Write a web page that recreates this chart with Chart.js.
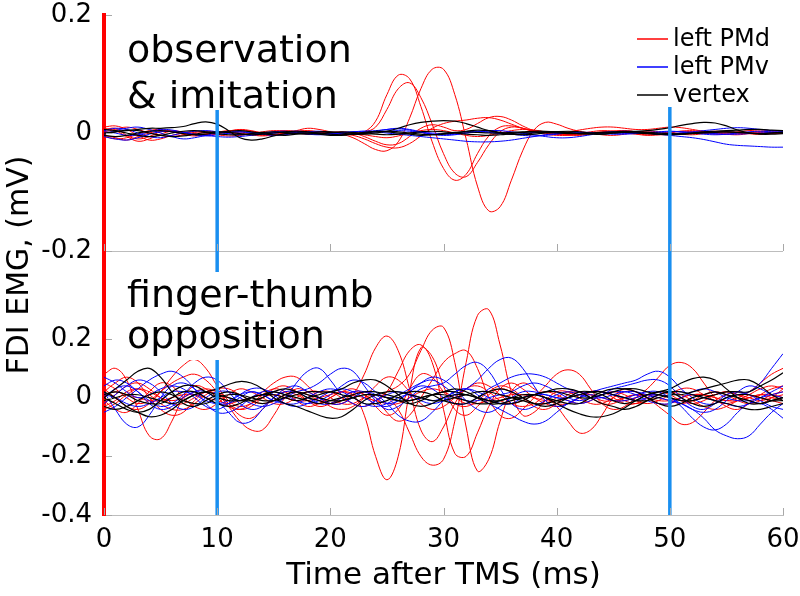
<!DOCTYPE html>
<html><head><meta charset="utf-8">
<script src="https://cdn.jsdelivr.net/npm/chart.js@4.4.1/dist/chart.umd.min.js"></script>
<style>html,body{margin:0;padding:0;background:#fff}#wrap{width:800px;height:596px;position:relative}</style>
</head><body><div id="wrap"><canvas id="c"></canvas></div>
<script>
// ---- time base (ms after TMS) ----
const times = [0,1,2,3,4,5,6,7,8,9,10,11,12,13,14,15,16,17,18,19,20,21,22,23,24,25,26,27,28,29,30,
  31,32,33,34,35,36,37,38,39,40,41,42,43,44,45,46,47,48,49,50,51,52,53,54,55,56,57,58,59,60];

// ---- panel value ranges and ticks (mV) ----
const topRange = [-0.2, 0.2];
const botRange = [-0.4, 0.5];
const topTicks = [-0.2, 0, 0.2];
const botTicks = [-0.4, -0.2, 0, 0.2];
const xTicks = [0, 10, 20, 30, 40, 50, 60];
const markerTimes = [10, 50];
const legendLabels = ['left PMd', 'left PMv', 'vertex'];

// ---- observation & imitation : left PMd (red) ----
const obsPMd1 = [0.005,0.008,-0.004,-0.010,-0.006,0.002,0.004,0.001,-0.003,-0.004,
 -0.002,0.003,0.006,0.004,0.000,-0.003,-0.002,0.001,0.003,0.002,
 0.000,-0.002,-0.001,0.002,0.020,0.065,0.098,0.092,0.045,-0.015,
 -0.060,-0.080,-0.070,-0.035,-0.005,0.010,0.012,0.008,0.004,0.002,
 0.000,-0.003,-0.004,-0.002,0.001,0.003,0.004,0.002,-0.001,-0.003,
 -0.002,0.000,0.002,0.003,0.001,-0.002,-0.003,-0.001,0.001,0.002,0.001];
const obsPMd2 = [-0.004,-0.008,-0.012,-0.006,0.000,0.003,0.002,-0.002,-0.005,-0.003,
 0.001,0.004,0.002,-0.001,-0.004,-0.003,0.000,0.003,0.004,0.002,
 0.000,-0.001,0.000,0.002,0.010,0.040,0.075,0.085,0.060,0.015,
 -0.035,-0.068,-0.074,-0.050,-0.020,0.002,0.010,0.008,0.003,0.000,
 -0.002,-0.003,-0.001,0.002,0.004,0.003,0.000,-0.002,-0.004,-0.003,
 0.000,0.003,0.004,0.002,-0.001,-0.002,-0.001,0.001,0.002,0.001,0.000];
const obsPMd3 = [0.008,0.004,-0.006,-0.014,-0.010,-0.002,0.003,0.002,-0.001,-0.002,
 0.000,0.003,0.005,0.003,0.000,-0.002,0.000,0.004,0.008,0.006,
 0.002,-0.002,-0.008,-0.018,-0.028,-0.030,-0.015,0.025,0.075,0.108,
 0.108,0.065,-0.010,-0.090,-0.132,-0.125,-0.080,-0.030,0.005,0.018,
 0.015,0.008,0.003,0.000,-0.003,-0.004,-0.002,0.001,0.003,0.002,
 0.000,-0.002,-0.003,-0.001,0.001,0.002,0.001,-0.001,-0.002,-0.001,0.000];
const obsPMd4 = [-0.006,-0.010,-0.008,-0.002,0.004,0.006,0.003,-0.001,-0.003,-0.002,
 0.001,0.002,0.000,-0.003,-0.005,-0.003,0.000,0.002,0.003,0.001,
 -0.001,-0.002,-0.004,-0.010,-0.018,-0.024,-0.025,-0.018,-0.005,0.008,
 0.016,0.020,0.022,0.025,0.026,0.022,0.015,0.008,0.002,-0.002,
 -0.004,-0.004,-0.003,-0.001,0.001,0.003,0.004,0.002,0.000,-0.002,
 -0.003,-0.002,0.000,0.002,0.003,0.002,0.000,-0.001,-0.002,-0.001,0.000];
const obsPMd5 = [0.002,0.006,0.010,0.006,0.000,-0.004,-0.006,-0.003,0.001,0.003,
 0.002,0.000,-0.002,-0.003,-0.001,0.002,0.004,0.003,0.000,-0.002,
 -0.001,0.001,0.000,-0.006,-0.014,-0.020,-0.018,-0.006,0.008,0.014,
 0.010,0.004,0.006,0.016,0.026,0.028,0.022,0.012,0.004,0.000,
 -0.002,-0.003,-0.002,0.000,0.002,0.003,0.001,-0.001,-0.003,-0.002,
 0.001,0.003,0.002,0.000,-0.002,-0.002,0.000,0.001,0.002,0.001,0.000];
const obsPMd6 = [0.010,0.012,0.006,-0.004,-0.012,-0.010,-0.004,0.000,0.002,0.000,
 -0.003,-0.005,-0.004,-0.001,0.002,0.004,0.003,0.000,-0.002,-0.001,
 0.001,0.002,0.000,-0.003,-0.006,-0.008,-0.005,0.000,0.004,0.006,
 0.004,0.000,-0.004,-0.006,-0.004,0.000,0.004,0.006,0.005,0.002,
 0.000,0.002,0.005,0.008,0.010,0.010,0.008,0.006,0.006,0.008,
 0.010,0.009,0.006,0.003,0.001,0.000,0.002,0.004,0.005,0.004,0.003];

// ---- observation & imitation : left PMv (blue) ----
const obsPMv1 = [0.004,0.008,0.006,0.000,-0.006,-0.008,-0.004,0.000,0.003,0.004,
 0.002,-0.001,-0.003,-0.002,0.000,0.002,0.003,0.001,-0.001,-0.002,
 -0.001,0.001,0.002,0.003,0.004,0.006,0.008,0.006,0.002,-0.002,
 -0.004,-0.003,0.000,0.002,0.001,-0.001,-0.002,-0.001,0.001,0.002,
 0.001,0.000,-0.001,0.000,0.001,0.002,0.002,0.001,0.000,-0.002,
 -0.004,-0.006,-0.008,-0.011,-0.015,-0.019,-0.021,-0.022,-0.023,-0.024,-0.024];
const obsPMv2 = [-0.006,-0.010,-0.012,-0.008,-0.002,0.002,0.003,0.001,-0.002,-0.004,
 -0.006,-0.007,-0.006,-0.004,-0.002,0.000,0.001,0.000,-0.002,-0.003,
 -0.002,0.000,0.002,0.003,0.002,0.000,-0.002,-0.004,-0.006,-0.008,
 -0.010,-0.012,-0.014,-0.015,-0.015,-0.014,-0.012,-0.009,-0.006,-0.003,
 -0.001,0.000,0.001,0.000,-0.001,-0.002,-0.002,-0.001,0.000,0.001,
 0.002,0.002,0.001,0.000,-0.001,-0.002,-0.002,-0.001,0.000,0.001,0.002];
const obsPMv3 = [0.002,0.000,-0.004,-0.003,0.002,0.006,0.005,0.001,-0.003,-0.005,
 -0.003,0.000,0.002,0.001,-0.002,-0.004,-0.003,0.000,0.002,0.003,
 0.001,-0.001,-0.002,0.000,0.003,0.006,0.007,0.005,0.001,-0.002,
 -0.003,-0.002,0.000,0.002,0.004,0.004,0.002,0.000,-0.003,-0.006,
 -0.008,-0.008,-0.006,-0.003,0.000,0.002,0.003,0.002,0.000,-0.002,
 -0.002,0.000,0.002,0.004,0.006,0.008,0.009,0.008,0.006,0.004,0.003];
const obsPMv4 = [-0.002,0.004,0.008,0.010,0.006,0.000,-0.006,-0.010,-0.008,-0.004,
 0.000,0.002,0.002,0.000,-0.001,0.000,0.002,0.003,0.002,0.000,
 -0.002,-0.003,-0.002,0.000,0.002,0.003,0.004,0.003,0.001,0.000,
 -0.001,0.000,0.002,0.003,0.002,0.000,-0.002,-0.004,-0.005,-0.004,
 -0.002,0.000,0.001,0.001,0.000,-0.001,-0.001,0.000,0.001,0.002,
 0.003,0.002,0.000,-0.002,-0.003,-0.002,0.000,0.002,0.003,0.002,0.001];

// ---- observation & imitation : vertex (black) ----
const obsVx1 = [0.000,0.002,0.004,0.006,0.008,0.008,0.009,0.011,0.016,0.019,
 0.015,0.004,-0.008,-0.012,-0.010,-0.005,-0.001,0.000,0.000,-0.002,
 -0.004,-0.004,-0.002,0.000,0.002,0.003,0.002,0.000,-0.002,-0.003,
 -0.002,0.000,0.003,0.005,0.004,0.001,-0.002,-0.003,-0.002,0.000,
 0.002,0.003,0.002,0.000,-0.002,0.000,0.001,0.002,0.001,0.000,
 -0.001,-0.002,-0.001,0.000,0.001,0.002,0.001,0.000,-0.001,0.000,0.001];
const obsVx2 = [-0.004,-0.006,-0.004,0.000,0.003,0.004,0.002,-0.001,-0.003,-0.002,
 0.001,0.003,0.004,0.002,-0.001,-0.003,-0.004,-0.002,0.000,0.002,
 0.002,0.000,-0.002,-0.002,0.000,0.003,0.008,0.014,0.018,0.020,
 0.021,0.020,0.016,0.010,0.004,0.000,-0.002,-0.002,0.000,0.002,
 0.002,0.001,-0.001,-0.002,-0.002,0.000,0.002,0.003,0.004,0.006,
 0.009,0.013,0.016,0.018,0.017,0.012,0.005,0.000,-0.002,-0.002,-0.001];
const obsVx3 = [0.006,0.004,0.000,-0.004,-0.006,-0.004,0.000,0.003,0.004,0.002,
 -0.001,-0.003,-0.003,-0.001,0.001,0.002,0.001,-0.001,-0.002,-0.001,
 0.001,0.002,0.001,-0.001,-0.002,-0.003,-0.002,0.000,0.002,0.003,
 0.002,0.000,-0.002,-0.003,-0.004,-0.003,-0.001,0.001,0.002,0.001,
 0.000,-0.001,-0.001,0.000,0.001,0.002,0.003,0.002,0.000,-0.002,
 -0.003,-0.002,0.000,0.002,0.003,0.004,0.005,0.006,0.006,0.005,0.004];
const obsVx4 = [-0.002,0.002,0.005,0.004,0.000,-0.004,-0.006,-0.005,-0.002,0.001,
 0.002,0.001,-0.001,-0.003,-0.002,0.000,0.002,0.003,0.002,0.000,
 -0.002,-0.003,-0.001,0.001,0.003,0.002,0.000,-0.002,-0.004,-0.003,
 -0.001,0.001,0.002,0.001,0.000,0.000,0.001,0.002,0.003,0.003,
 0.002,0.000,-0.001,-0.001,0.000,0.001,0.001,0.000,-0.001,-0.002,
 -0.002,-0.001,0.000,0.001,0.002,0.002,0.001,0.000,-0.001,0.000,0.001];

// ---- finger-thumb opposition : left PMd (red) ----
const oppPMd1 = [0.08,0.10,0.06,-0.04,-0.13,-0.14,-0.08,0.00,0.04,0.03,
 0.00,-0.03,-0.04,-0.02,0.01,0.03,0.02,-0.01,-0.03,-0.02,
 0.00,0.02,0.01,-0.06,-0.20,-0.28,-0.20,0.02,0.17,0.14,
 0.04,-0.04,-0.06,-0.03,0.01,0.03,0.02,0.00,-0.02,-0.02,
 0.00,0.02,0.02,0.00,-0.02,-0.02,0.00,0.01,0.01,0.00,
 -0.01,-0.02,-0.01,0.01,0.02,0.01,-0.01,-0.02,-0.01,0.01,0.02];
const oppPMd2 = [-0.02,0.01,0.04,0.05,0.03,0.00,-0.02,-0.02,0.00,0.02,
 0.01,-0.03,-0.08,-0.11,-0.11,-0.06,0.00,0.03,0.02,0.00,
 -0.02,-0.02,0.01,0.08,0.17,0.21,0.16,0.03,-0.11,-0.15,
 -0.10,-0.02,0.03,0.04,0.02,-0.01,-0.02,-0.01,0.01,0.02,
 0.01,-0.01,-0.02,-0.01,0.01,0.02,0.01,-0.01,-0.02,-0.01,
 0.01,0.03,0.03,0.01,-0.01,-0.02,-0.01,0.00,0.01,0.01,0.00];
const oppPMd3 = [0.03,0.00,-0.03,-0.04,-0.02,0.02,0.07,0.11,0.13,0.10,
 0.04,-0.01,-0.03,-0.02,0.00,0.01,0.00,-0.01,0.00,0.02,
 0.02,0.00,-0.02,-0.03,-0.01,0.02,0.04,0.08,0.16,0.23,
 0.24,0.12,-0.10,-0.25,-0.21,-0.08,0.02,0.05,0.03,0.00,
 -0.02,-0.02,0.00,0.02,0.02,0.00,-0.02,-0.02,0.00,0.02,
 0.01,-0.01,-0.02,-0.01,0.01,0.02,0.01,-0.01,-0.02,0.00,0.03];
const oppPMd4 = [-0.01,-0.04,-0.05,-0.02,0.02,0.05,0.04,0.00,-0.03,-0.04,
 -0.02,0.01,0.03,0.02,0.00,-0.02,-0.02,0.00,0.02,0.02,
 0.00,-0.02,-0.02,0.00,0.01,0.00,-0.04,-0.12,-0.20,-0.23,
 -0.21,-0.08,0.12,0.28,0.30,0.18,0.02,-0.06,-0.05,-0.01,
 0.02,0.02,0.00,-0.02,-0.02,0.00,0.02,0.02,0.00,-0.02,
 -0.02,0.00,0.01,0.01,0.00,-0.01,-0.01,0.00,0.01,0.00,-0.01];
const oppPMd5 = [0.05,0.03,0.00,-0.02,-0.01,0.02,0.05,0.07,0.08,0.06,
 0.02,-0.02,-0.04,-0.03,0.00,0.03,0.04,0.02,-0.01,-0.03,
 -0.02,0.00,0.02,0.01,-0.01,0.02,0.09,0.16,0.18,0.12,
 -0.04,-0.19,-0.20,-0.12,-0.03,0.03,0.05,0.03,0.00,-0.02,
 -0.03,-0.02,0.00,0.02,0.02,0.01,-0.01,-0.02,-0.01,0.01,
 0.02,0.01,-0.01,-0.03,-0.04,-0.03,-0.01,0.01,0.03,0.04,0.03];
const oppPMd6 = [-0.03,-0.01,0.02,0.03,0.01,-0.02,-0.04,-0.04,-0.02,0.01,
 0.03,0.03,0.01,-0.01,-0.02,-0.01,0.01,0.02,0.01,-0.01,
 -0.02,-0.01,0.01,0.02,0.00,-0.05,-0.08,-0.06,0.00,0.06,
 0.12,0.15,0.16,0.10,0.00,-0.06,-0.07,-0.04,0.00,0.04,
 0.08,0.095,0.08,0.03,-0.02,-0.04,-0.03,0.00,0.03,0.07,
 0.11,0.12,0.10,0.05,0.00,-0.03,-0.04,-0.02,0.01,0.03,0.04];
const oppPMd7 = [-0.04,-0.02,0.01,0.03,0.02,0.00,-0.01,0.00,0.02,0.03,
 0.02,0.00,-0.01,0.00,0.02,0.05,0.07,0.07,0.04,0.00,
 -0.03,-0.04,-0.03,0.00,0.04,0.07,0.06,0.02,-0.02,-0.04,
 -0.03,0.00,0.03,0.05,0.04,0.01,-0.02,-0.03,-0.02,0.00,
 -0.03,-0.08,-0.12,-0.11,-0.06,0.00,0.03,0.02,0.00,-0.03,
 -0.06,-0.09,-0.085,-0.05,-0.01,0.01,0.02,0.01,0.00,-0.01,-0.02];
const oppPMd8 = [0.02,0.05,0.07,0.05,0.00,-0.04,-0.06,-0.05,-0.01,0.02,
 0.02,-0.02,-0.06,-0.07,-0.04,0.00,0.02,0.01,-0.01,-0.02,
 0.00,0.02,0.03,0.01,-0.03,-0.06,-0.04,0.03,0.08,0.07,
 0.02,-0.02,-0.03,-0.01,0.02,0.04,0.03,0.00,-0.03,-0.04,
 -0.02,0.01,0.02,0.01,-0.01,-0.01,0.00,0.01,0.00,-0.01,
 -0.01,0.00,0.01,0.01,0.00,-0.01,0.00,0.02,0.05,0.08,0.10];
const oppPMd9 = [0.01,0.02,0.01,0.00,-0.01,-0.01,0.00,0.01,0.01,0.00,
 -0.01,-0.02,-0.01,0.00,0.01,0.01,0.00,-0.01,-0.01,0.00,
 0.01,0.02,0.01,0.00,-0.01,-0.02,-0.02,0.00,0.02,0.03,
 0.02,0.00,-0.02,-0.02,-0.01,0.00,0.01,0.01,0.00,-0.01,
 -0.01,0.00,0.01,0.01,0.00,-0.01,-0.01,0.00,0.01,0.01,
 0.00,-0.01,-0.01,0.00,0.01,0.02,0.01,0.00,-0.01,0.00,0.01];

// ---- finger-thumb opposition : left PMv (blue) ----
const oppPMv1 = [0.02,-0.04,-0.09,-0.10,-0.06,0.00,0.04,0.05,0.03,0.00,
 -0.02,-0.02,0.00,0.02,0.01,-0.01,0.00,0.05,0.09,0.10,
 0.06,0.01,-0.02,-0.03,-0.01,0.01,0.02,0.01,-0.01,-0.02,
 -0.01,0.01,0.03,0.06,0.10,0.13,0.135,0.10,0.04,-0.01,
 -0.03,-0.02,0.00,0.02,0.02,0.01,0.00,0.01,0.02,0.02,
 0.00,-0.02,-0.04,-0.05,-0.04,-0.01,0.02,0.04,0.03,0.01,0.00];
const oppPMv2 = [-0.02,0.01,0.04,0.06,0.05,0.02,-0.02,-0.04,-0.03,0.00,
 0.02,0.02,0.00,-0.02,-0.03,-0.02,0.00,0.02,0.03,0.05,
 0.08,0.10,0.09,0.04,-0.01,-0.04,-0.03,0.00,0.03,0.04,
 0.05,0.08,0.11,0.12,0.09,0.03,-0.02,-0.04,-0.03,-0.01,
 0.01,0.02,0.01,0.00,0.00,0.01,0.02,0.02,0.01,0.00,
 -0.01,-0.02,-0.04,-0.07,-0.11,-0.13,-0.14,-0.13,-0.09,-0.05,-0.02];
const oppPMv3 = [0.04,0.06,0.05,0.02,-0.01,-0.03,-0.02,0.01,0.05,0.07,
 0.06,0.02,-0.02,-0.04,-0.03,0.00,0.02,0.02,0.00,-0.02,
 -0.02,0.00,0.02,0.02,0.00,-0.02,-0.01,0.02,0.04,0.03,
 0.00,-0.02,-0.02,0.00,0.03,0.05,0.07,0.08,0.08,0.07,
 0.05,0.03,0.02,0.02,0.03,0.04,0.05,0.06,0.08,0.09,
 0.07,0.03,0.00,-0.02,-0.02,0.00,0.01,0.02,0.05,0.10,0.15];
const oppPMv4 = [0.00,0.03,0.04,0.02,-0.02,-0.04,-0.03,0.00,0.02,0.02,
 -0.01,-0.05,-0.085,-0.08,-0.04,0.00,0.03,0.04,0.02,0.00,
 -0.02,-0.02,0.00,0.02,0.01,-0.02,-0.06,-0.08,-0.08,-0.05,
 -0.01,0.02,0.03,0.01,-0.02,-0.04,-0.06,-0.08,-0.09,-0.08,
 -0.05,-0.02,0.00,0.01,0.00,-0.01,-0.01,0.00,0.01,0.01,
 0.00,-0.03,-0.07,-0.10,-0.11,-0.09,-0.05,-0.02,-0.02,-0.04,-0.07];
const oppPMv5 = [0.07,0.05,0.02,0.00,0.01,0.03,0.04,0.03,0.00,-0.03,
 -0.04,-0.02,0.01,0.03,0.03,0.01,-0.02,-0.03,-0.02,0.00,
 0.02,0.03,0.02,0.00,-0.02,-0.03,-0.01,0.02,0.05,0.07,
 0.06,0.03,-0.01,-0.04,-0.05,-0.03,0.00,0.02,0.02,0.01,
 0.00,0.00,0.01,0.02,0.02,0.01,0.00,-0.01,0.00,0.01,
 0.02,0.02,0.01,0.00,-0.01,-0.02,-0.03,-0.02,0.00,0.02,0.04];
const oppPMv6 = [-0.05,-0.03,0.00,0.03,0.06,0.08,0.09,0.07,0.03,-0.02,
 -0.05,-0.05,-0.03,0.00,0.02,0.02,0.01,-0.01,-0.02,-0.01,
 0.01,0.04,0.06,0.05,0.02,0.00,0.01,0.03,0.05,0.06,
 0.04,0.01,-0.01,-0.01,0.00,0.01,0.02,0.04,0.05,0.04,
 0.02,0.00,-0.01,0.00,0.01,0.03,0.04,0.05,0.06,0.06,
 0.04,0.00,-0.03,-0.04,-0.02,0.01,0.02,0.01,-0.01,-0.03,-0.04];
const oppPMv7 = [0.01,0.00,-0.02,-0.03,-0.02,0.00,0.02,0.02,0.01,-0.01,
 -0.02,-0.01,0.01,0.02,0.01,-0.01,-0.02,-0.02,0.00,0.02,
 0.03,0.02,0.00,-0.02,-0.03,-0.02,0.00,0.01,0.00,-0.01,
 0.00,0.02,0.03,0.02,0.00,-0.02,-0.02,0.00,0.01,0.01,
 0.00,-0.01,-0.02,-0.01,0.01,0.02,0.02,0.01,-0.01,-0.02,
 -0.02,0.00,0.02,0.03,0.02,0.00,-0.01,-0.01,0.00,0.01,0.02];

// ---- finger-thumb opposition : vertex (black) ----
const oppVx1 = [0.00,0.03,0.06,0.09,0.10,0.07,0.02,-0.02,-0.03,-0.01,
 0.01,0.02,0.01,-0.01,-0.02,-0.01,0.01,0.02,0.01,0.00,
 -0.01,-0.01,0.00,0.01,0.01,0.00,-0.01,-0.01,0.00,0.01,
 0.02,0.02,0.01,0.00,-0.01,-0.01,0.00,0.01,0.01,0.00,
 -0.02,-0.04,-0.055,-0.065,-0.065,-0.055,-0.035,-0.01,0.01,0.02,
 0.03,0.05,0.065,0.07,0.06,0.03,0.00,-0.02,-0.02,-0.01,0.00];
const oppVx2 = [0.02,0.00,-0.03,-0.05,-0.065,-0.06,-0.04,-0.01,0.01,0.02,
 0.03,0.045,0.055,0.05,0.03,0.00,-0.02,-0.03,-0.045,-0.06,
 -0.07,-0.065,-0.04,-0.01,0.01,0.02,0.02,0.01,0.00,-0.01,
 -0.01,0.00,0.01,0.02,0.02,0.01,0.00,-0.01,-0.02,-0.02,
 -0.01,0.00,0.01,0.02,0.02,0.01,0.00,-0.01,-0.01,0.00,
 0.01,0.01,0.02,0.03,0.04,0.05,0.06,0.06,0.04,0.01,-0.01];
const oppVx3 = [-0.03,-0.04,-0.03,-0.01,0.01,0.02,0.01,-0.01,-0.02,-0.02,
 0.00,0.01,0.01,0.00,-0.01,-0.01,0.00,0.01,0.02,0.02,
 0.02,0.03,0.05,0.06,0.06,0.04,0.01,-0.02,-0.03,-0.02,
 0.00,0.01,0.01,0.00,-0.01,-0.02,-0.02,-0.01,0.01,0.02,
 0.02,0.01,0.00,0.00,0.01,0.02,0.03,0.03,0.02,0.01,
 0.00,-0.01,-0.01,0.00,0.01,0.02,0.02,0.02,0.04,0.06,0.085];
const oppVx4 = [0.01,0.02,0.01,-0.01,-0.02,-0.02,0.00,0.02,0.02,0.00,
 -0.02,-0.03,-0.02,0.00,0.01,0.01,0.00,-0.01,0.00,0.01,
 0.02,0.01,0.00,-0.02,-0.02,-0.01,0.01,0.02,0.02,0.01,
 -0.01,-0.02,-0.02,0.00,0.02,0.03,0.02,0.00,-0.02,-0.03,
 -0.02,0.00,0.02,0.02,0.01,-0.01,-0.02,-0.01,0.01,0.02,
 0.02,0.00,-0.02,-0.03,-0.02,0.00,0.01,0.01,0.00,-0.01,-0.01];
const oppVx5 = [-0.01,0.00,0.01,0.01,0.00,-0.01,-0.02,-0.01,0.01,0.02,
 0.01,0.00,-0.01,-0.01,0.00,0.02,0.03,0.02,0.00,-0.01,
 -0.02,-0.01,0.00,0.01,0.01,0.00,-0.01,-0.02,-0.01,0.01,
 0.02,0.03,0.02,0.00,-0.02,-0.02,-0.01,0.00,0.01,0.00,
 -0.01,-0.02,-0.02,0.00,0.02,0.03,0.03,0.02,0.00,-0.02,
 -0.03,-0.02,0.00,0.01,0.02,0.01,0.00,-0.01,-0.02,-0.01,0.00];
const oppVx6 = [0.00,-0.02,-0.04,-0.05,-0.04,-0.01,0.02,0.04,0.04,0.02,
 0.00,-0.01,-0.01,0.00,0.01,0.02,0.01,0.00,-0.01,-0.02,
 -0.01,0.00,0.01,0.02,0.02,0.01,0.00,-0.01,0.00,0.01,
 0.01,0.00,-0.01,-0.02,-0.02,-0.01,0.00,0.00,0.01,0.02,
 0.03,0.03,0.02,0.00,-0.02,-0.03,-0.04,-0.03,-0.01,0.01,
 0.02,0.02,0.01,0.00,-0.01,-0.02,-0.03,-0.04,-0.04,-0.03,-0.02];

const obsPMd = [obsPMd1, obsPMd2, obsPMd3, obsPMd4, obsPMd5, obsPMd6];
const obsPMv = [obsPMv1, obsPMv2, obsPMv3, obsPMv4];
const obsVx = [obsVx1, obsVx2, obsVx3, obsVx4];
const oppPMd = [oppPMd1, oppPMd2, oppPMd3, oppPMd4, oppPMd5, oppPMd6, oppPMd7, oppPMd8, oppPMd9];
const oppPMv = [oppPMv1, oppPMv2, oppPMv3, oppPMv4, oppPMv5, oppPMv6, oppPMv7];
const oppVx = [oppVx1, oppVx2, oppVx3, oppVx4, oppVx5, oppVx6];

// ---- styling ----
const FONT = "'DejaVu Sans', sans-serif";
const RED = '#ff0000', BLUE = '#0000ff', BLACK = '#000000', MARK = '#1a8ff0';
const legendColors = [RED, BLUE, BLACK];

function traces(list, color, axis, order, width) {
  return list.map(vals => ({
    data: vals.map((v, i) => ({x: times[i], y: v})),
    borderColor: color, borderWidth: width, pointRadius: 0, tension: 0.4,
    fill: false, yAxisID: axis, order: order
  }));
}
function markers(axis, range) {
  return markerTimes.map(t => ({
    data: [{x: t, y: range[0]}, {x: t, y: range[1]}],
    borderColor: MARK, borderWidth: 3.5, pointRadius: 0, tension: 0,
    fill: false, yAxisID: axis, order: 1
  }));
}

const datasets = [].concat(
  traces(obsPMd, RED, 'yTop', 4, 1), traces(oppPMd, RED, 'yBot', 4, 1),
  traces(obsPMv, BLUE, 'yTop', 3, 1), traces(oppPMv, BLUE, 'yBot', 3, 1),
  traces(obsVx, BLACK, 'yTop', 2, 1.2), traces(oppVx, BLACK, 'yBot', 2, 1.2),
  markers('yTop', topRange), markers('yBot', botRange)
);

const fmt = v => (v === 0 ? '0' : v.toFixed(1));

const deco = {
  id: 'deco',
  afterDatasetsDraw(chart) {
    const ctx = chart.ctx;
    ctx.save();
    // white boxes behind the panel labels and legend
    ctx.fillStyle = '#ffffff';
    ctx.fillRect(120, 10, 246, 100);
    ctx.fillRect(120, 272, 262, 44);
    ctx.fillRect(120, 316, 210, 44);
    ctx.fillRect(630, 10, 153, 97);
    ctx.fillStyle = '#000000';
    ctx.textAlign = 'left';
    ctx.textBaseline = 'alphabetic';
    ctx.font = '38px ' + FONT;
    ctx.fillText('observation', 127, 62);
    ctx.fillText('& imitation', 127, 108);
    ctx.fillText('finger-thumb', 127, 307);
    ctx.fillText('opposition', 127, 348);
    // legend
    ctx.font = '24px ' + FONT;
    ctx.textBaseline = 'middle';
    legendLabels.forEach((lab, i) => {
      const y = 39 + i * 28;
      ctx.strokeStyle = legendColors[i];
      ctx.lineWidth = 1.5;
      ctx.beginPath(); ctx.moveTo(637, y); ctx.lineTo(668, y); ctx.stroke();
      ctx.fillStyle = '#000000';
      ctx.fillText(lab, 673, y + 1);
    });
    ctx.restore();
  },
  afterDraw(chart) {
    const ctx = chart.ctx;
    const xs = chart.scales.x, yt = chart.scales.yTop, yb = chart.scales.yBot;
    ctx.save();
    ctx.strokeStyle = '#a8a8a8';
    ctx.lineWidth = 1;
    // inward ticks on x (bottom of each panel)
    [yt.bottom, yb.bottom].forEach(yy => {
      xTicks.forEach(t => {
        const px = Math.round(xs.getPixelForValue(t)) + 0.5;
        ctx.beginPath(); ctx.moveTo(px, yy); ctx.lineTo(px, yy - 7); ctx.stroke();
      });
    });
    // inward ticks on y
    const x0 = xs.left;
    topTicks.forEach(v => {
      const py = Math.round(yt.getPixelForValue(v)) + 0.5;
      ctx.beginPath(); ctx.moveTo(x0 + 2, py); ctx.lineTo(x0 + 8, py); ctx.stroke();
    });
    botTicks.forEach(v => {
      const py = Math.round(yb.getPixelForValue(v)) + 0.5;
      ctx.beginPath(); ctx.moveTo(x0 + 2, py); ctx.lineTo(x0 + 8, py); ctx.stroke();
    });
    // y axis title
    ctx.fillStyle = '#000000';
    ctx.font = '30px ' + FONT;
    ctx.textAlign = 'center';
    ctx.textBaseline = 'alphabetic';
    ctx.translate(28, (yt.top + yb.bottom) / 2);
    ctx.rotate(-Math.PI / 2);
    ctx.fillText('FDI EMG, (mV)', 0, 0);
    ctx.restore();
  }
};

const yCommon = (ticksArr) => ({
  type: 'linear', position: 'left', stack: 'emg', z: 1,
  ticks: {font: {family: FONT, size: 26}, color: '#000', padding: 12, autoSkip: false, callback: fmt},
  afterBuildTicks: s => { s.ticks = ticksArr.map(v => ({value: v})); },
  afterFit: s => { s.width = 104; s.paddingTop = 0; s.paddingBottom = 0; },
  border: {display: true, color: RED, width: 4}
});

new Chart(document.getElementById('c'), {
  type: 'line',
  data: {datasets},
  options: {
    responsive: true, maintainAspectRatio: false, animation: false,
    layout: {padding: {top: 15, right: 17, left: 0, bottom: 0}},
    plugins: {legend: {display: false}, tooltip: {enabled: false}},
    events: [],
    scales: {
      x: {
        type: 'linear', position: 'bottom', min: 0, max: 60, z: 1,
        afterBuildTicks: s => { s.ticks = xTicks.map(v => ({value: v})); },
        ticks: {font: {family: FONT, size: 26}, color: '#000', padding: 10, maxRotation: 0, autoSkip: false},
        grid: {display: true, drawOnChartArea: false, drawTicks: false},
        border: {display: true, color: '#bdbdbd', width: 1},
        title: {display: true, text: 'Time after TMS (ms)', font: {family: FONT, size: 31}, color: '#000', padding: {top: 0, bottom: 1}},
        afterFit: s => { s.height = 81; s.paddingLeft = 0; s.paddingRight = 0; }
      },
      yBot: Object.assign(yCommon(botTicks), {
        min: botRange[0], max: botRange[1], stackWeight: 264, weight: 0,
        grid: {display: true, drawOnChartArea: false, drawTicks: false}
      }),
      yTop: Object.assign(yCommon(topTicks), {
        min: topRange[0], max: topRange[1], stackWeight: 236, weight: 1,
        grid: {display: true, drawOnChartArea: true, drawTicks: false, lineWidth: 1,
               color: c => (c.tick && c.tick.value === topRange[0] ? '#bdbdbd' : 'rgba(0,0,0,0)')}
      })
    }
  },
  plugins: [deco]
});
</script>
</body></html>
